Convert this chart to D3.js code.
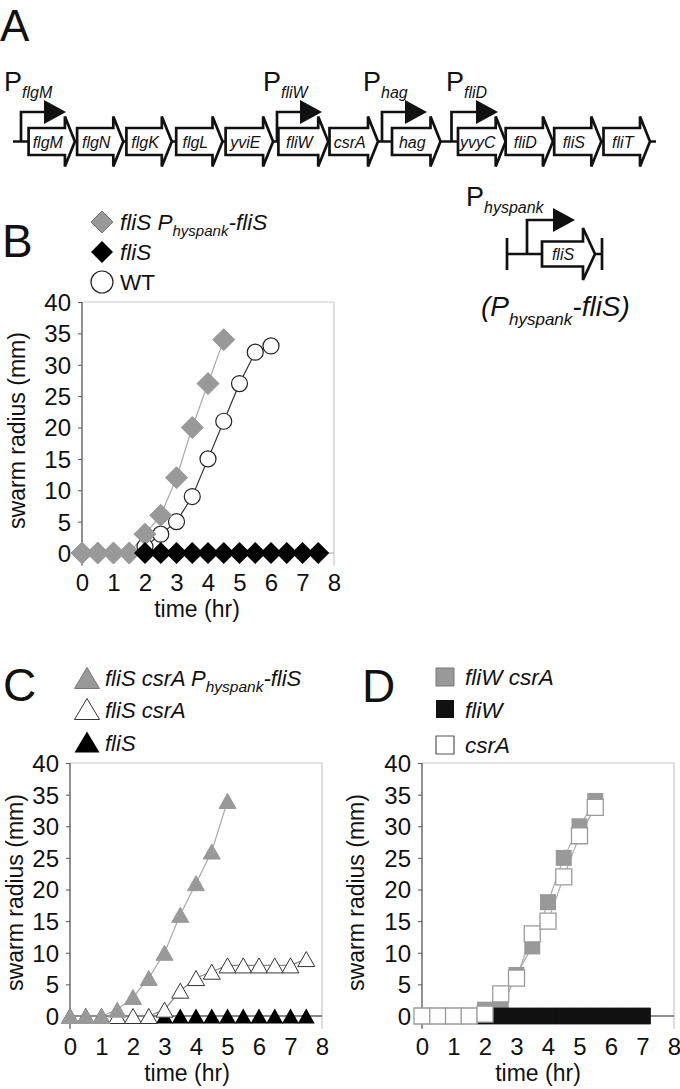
<!DOCTYPE html>
<html><head><meta charset="utf-8">
<script src="https://cdn.jsdelivr.net/npm/d3@7"></script>
<style>body{margin:0;background:#fff}svg{display:block}text{font-family:"Liberation Sans",Arial,Helvetica,sans-serif;fill:#111}</style>
</head><body><svg id="fig" width="680" height="1089"></svg>
<script>
// ---------------- DATA ----------------
const geneNames = ["flgM","flgN","flgK","flgL","yviE","fliW","csrA","hag","yvyC","fliD","fliS","fliT"];
const promoterNames = ["flgM","fliW","hag","fliD"];

const xTicks = [0,1,2,3,4,5,6,7,8];
const yTicks = [0,5,10,15,20,25,30,35,40];

// Panel B
const timeB_comp = [0,0.5,1,1.5,2,2.5,3,3.5,4,4.5];
const radiusB_comp = [0,0,0,0,3,6,12,20,27,34];
const timeB_fliS = [2,2.5,3,3.5,4,4.5,5,5.5,6,6.5,7,7.5];
const radiusB_fliS = [0,0,0,0,0,0,0,0,0,0,0,0];
const timeB_WT = [2,2.5,3,3.5,4,4.5,5,5.5,6];
const radiusB_WT = [1,3,5,9,15,21,27,32,33];

// Panel C
const timeC_comp = [0,0.5,1,1.5,2,2.5,3,3.5,4,4.5,5];
const radiusC_comp = [0,0,0,1,3,6,10,16,21,26,34];
const timeC_csrA = [0,0.5,1,1.5,2,2.5,3,3.5,4,4.5,5,5.5,6,6.5,7,7.5];
const radiusC_csrA = [0,0,0,0,0,0,1,4,6,7,8,8,8,8,8,9];
const timeC_fliS = [3,3.5,4,4.5,5,5.5,6,6.5,7,7.5];
const radiusC_fliS = [0,0,0,0,0,0,0,0,0,0];

// Panel D
const timeD_fliWcsrA = [0,0.5,1,1.5,2,2.5,3,3.5,4,4.5,5,5.5];
const radiusD_fliWcsrA = [0,0,0,0,1,1,6.5,11,18,25,30,34];
const timeD_fliW = [2,2.5,3,3.5,4,4.5,5,5.5,6,6.5,7];
const radiusD_fliW = [0,0,0,0,0,0,0,0,0,0,0];
const timeD_csrA = [0,0.5,1,1.5,2,2.5,3,3.5,4,4.5,5,5.5];
const radiusD_csrA = [0,0,0,0,0.3,3.5,6,13,15,22,28.5,33];

// ---------------- LAYOUT ----------------
const svg = d3.select("#fig");
const TICKFONT = 24;
const TITLEFONT = 23;

function rich(g, x, y, parts, anchor) {
  const t = g.append("text").attr("x", x).attr("y", y);
  if (anchor) t.attr("text-anchor", anchor);
  let prev = 0;
  parts.forEach(p => {
    const s = t.append("tspan").text(p.t).attr("font-size", p.size)
      .attr("font-style", p.it ? "italic" : "normal");
    const dy = (p.dy || 0) - prev;
    if (dy) s.attr("dy", dy);
    prev = p.dy || 0;
  });
  return t;
}

const pathDiamond = r => `M0,${-r}L${r},0L0,${r}L${-r},0Z`;
const pathTri = (w, h) => `M0,${-h/2}L${w/2},${h/2}L${-w/2},${h/2}Z`;
const pathSquare = s => `M${-s/2},${-s/2}h${s}v${s}h${-s}Z`;
const pathCircle = r => `M${r},0A${r},${r} 0 1,1 ${-r},0A${r},${r} 0 1,1 ${r},0Z`;

// ---------------- PANEL A: gene map ----------------
const gA = svg.append("g");
gA.append("text").attr("x", 0).attr("y", 41).attr("font-size", 44).text("A");

const mapY = 141.5;
const geneLeft = [28.6, 77.1, 126.4, 176.2, 225.6, 278.4, 329.5, 392, 458, 505.7, 554.2, 603.5];
const geneTip  = [74.9, 123.3, 171.8, 222.5, 273.1, 328.2, 378, 440.5, 505.7, 552.9, 601.3, 650];
const headLen = 10, bodyH = 13.5, headH = 25;

function geneArrow(g, l, tip, cy, bh, hh, hl) {
  const b = tip - hl;
  g.append("path")
    .attr("d", `M${l},${cy-bh}H${b}V${cy-hh}L${tip},${cy}L${b},${cy+hh}V${cy+bh}H${l}Z`)
    .attr("fill", "#fff").attr("stroke", "#111").attr("stroke-width", 2.7)
    .attr("stroke-linejoin", "miter");
}

gA.append("line").attr("x1", 13).attr("x2", 656).attr("y1", mapY).attr("y2", mapY)
  .attr("stroke", "#111").attr("stroke-width", 2.7);
geneNames.forEach((n, i) => {
  geneArrow(gA, geneLeft[i], geneTip[i], mapY, bodyH, headH, headLen);
  gA.append("text").attr("x", (geneLeft[i] + geneTip[i] - headLen) / 2 + 1).attr("y", mapY + 6)
    .attr("text-anchor", "middle").attr("font-size", 16).attr("font-style", "italic").text(n);
});

const promX = [21, 277, 382, 451.5];
const promTip = [66, 322, 427, 498];
const promLabelX = [4, 263, 363, 446];
function promoter(g, vx, tip, yBase, yTop) {
  g.append("path").attr("d", `M${vx},${yBase}V${yTop}H${tip-20}`)
    .attr("fill", "none").attr("stroke", "#111").attr("stroke-width", 2.7);
  g.append("path").attr("d", `M${tip-22},${yTop-12}L${tip},${yTop}L${tip-22},${yTop+12}Z`).attr("fill", "#111");
}
promoterNames.forEach((n, i) => {
  promoter(gA, promX[i], promTip[i], mapY, 112);
  rich(gA, promLabelX[i], 91, [{t: "P", size: 27}, {t: n, size: 16, it: true, dy: 7}]);
});

// P_hyspank-fliS construct
const gH = svg.append("g");
gH.append("path").attr("d", "M507,238V270M507,254H542M595,254H602M602,238V270")
  .attr("fill", "none").attr("stroke", "#111").attr("stroke-width", 2.7);
geneArrow(gH, 542, 595, 254, 12.5, 26, 12);
gH.append("text").attr("x", 563).attr("y", 260).attr("text-anchor", "middle")
  .attr("font-size", 16).attr("font-style", "italic").text("fliS");
promoter(gH, 527, 575, 254, 220);
rich(gH, 466, 206, [{t: "P", size: 27}, {t: "hyspank", size: 16, it: true, dy: 7}]);
rich(gH, 481, 316, [{t: "(P", size: 28, it: true}, {t: "hyspank", size: 17, it: true, dy: 9}, {t: "-fliS)", size: 28, it: true, dy: 0}]);

// ---------------- chart helper ----------------
function chart(o) {
  const g = svg.append("g");
  const x = d3.scaleLinear().domain([0, 8]).range([o.x0, o.x1]);
  const y = d3.scaleLinear().domain([0, 40]).range([o.yZero, o.yTop]);
  const yMin = -2;
  g.append("path").attr("d", `M${o.x0},${y(40)}H${o.x1}V${y(yMin)}`)
    .attr("fill", "none").attr("stroke", "#c8c8c8").attr("stroke-width", 1.2);
  g.append("line").attr("x1", x(0)).attr("x2", o.x1).attr("y1", y(0)).attr("y2", y(0))
    .attr("stroke", o.zeroColor).attr("stroke-width", 1.2);
  const ya = g.append("g").attr("transform", `translate(${o.x0},0)`)
    .call(d3.axisLeft(y).tickValues(yTicks).tickSize(4).tickSizeOuter(0).tickPadding(7));
  ya.select(".domain").remove();
  ya.selectAll(".tick line").attr("stroke", "#555");
  ya.selectAll(".tick text").attr("font-size", TICKFONT).attr("font-family", null).attr("fill", "#111")
    .attr("dy", "0.35em");
  g.append("line").attr("x1", o.x0).attr("x2", o.x0).attr("y1", y(40)).attr("y2", y(yMin))
    .attr("stroke", "#555").attr("stroke-width", 1.3);
  const xa = g.append("g").attr("transform", `translate(0,${o.xLabelY})`)
    .call(d3.axisBottom(x).tickValues(xTicks).tickSize(0).tickPadding(0));
  xa.select(".domain").remove();
  xa.selectAll(".tick text").attr("font-size", TICKFONT).attr("font-family", null).attr("fill", "#111")
    .attr("y", 0).attr("dy", 0);
  g.append("text").attr("x", o.xTitleX).attr("y", o.xLabelY + 26).attr("text-anchor", "middle")
    .attr("font-size", TITLEFONT).text("time (hr)");
  g.append("text").attr("transform", `translate(${o.yTitleX},${(y(40) + y(0)) / 2 + 3}) rotate(-90)`)
    .attr("text-anchor", "middle").attr("font-size", TITLEFONT).text("swarm radius (mm)");
  return {g, x, y};
}

function series(c, xs, ys, opt) {
  const pts = xs.map((v, i) => [v, ys[i]]);
  if (opt.line) {
    c.g.append("path").datum(pts)
      .attr("d", d3.line().x(d => c.x(d[0])).y(d => c.y(d[1])))
      .attr("fill", "none").attr("stroke", opt.line).attr("stroke-width", opt.lw || 1.2);
  }
  return pts;
}
function markers(c, pts, opt) {
  c.g.append("g").selectAll("path").data(pts).join("path")
    .attr("transform", d => `translate(${c.x(d[0])},${c.y(d[1])})`)
    .attr("d", opt.shape).attr("fill", opt.fill)
    .attr("stroke", opt.stroke || "none").attr("stroke-width", opt.sw || 1);
}

// ---------------- PANEL B ----------------
svg.append("text").attr("x", 2).attr("y", 257).attr("font-size", 46).text("B");
const B = chart({x0: 82, x1: 334, yZero: 553, yTop: 302, zeroColor: "#aaa", xLabelY: 591, xTitleX: 197, yTitleX: 25});
const pBW = series(B, timeB_WT, radiusB_WT, {line: "#333", lw: 1.2});
const pBC = series(B, timeB_comp, radiusB_comp, {line: "#aaa", lw: 1.2});
const pBF = series(B, timeB_fliS, radiusB_fliS, {});
markers(B, pBW, {shape: pathCircle(8), fill: "#fff", stroke: "#222", sw: 1.2});
markers(B, pBC, {shape: pathDiamond(11), fill: "#999", stroke: "#999", sw: 1});
markers(B, pBF, {shape: pathDiamond(11), fill: "#000"});
const lgB = svg.append("g");
lgB.append("path").attr("transform", "translate(102,222)").attr("d", pathDiamond(11)).attr("fill", "#999").attr("stroke", "#777");
lgB.append("path").attr("transform", "translate(102,252)").attr("d", pathDiamond(11)).attr("fill", "#000");
lgB.append("path").attr("transform", "translate(102,282)").attr("d", pathCircle(11)).attr("fill", "#fff").attr("stroke", "#222").attr("stroke-width", 1.2);
rich(lgB, 120, 230, [{t: "fliS P", size: 22.5, it: true}, {t: "hyspank", size: 15, it: true, dy: 6}, {t: "-fliS", size: 22.5, it: true, dy: 0}]);
rich(lgB, 120, 260, [{t: "fliS", size: 22.5, it: true}]);
rich(lgB, 120, 290, [{t: "WT", size: 22.5}]);

// ---------------- PANEL C ----------------
svg.append("text").attr("x", 3).attr("y", 701).attr("font-size", 46).text("C");
const C = chart({x0: 70, x1: 322, yZero: 1016, yTop: 763, zeroColor: "#111", xLabelY: 1055, xTitleX: 187, yTitleX: 23});
const pCC = series(C, timeC_comp, radiusC_comp, {line: "#aaa", lw: 1.2});
const pCW = series(C, timeC_csrA, radiusC_csrA, {line: "#888", lw: 1.2});
const pCF = series(C, timeC_fliS, radiusC_fliS, {});
markers(C, pCF, {shape: pathTri(17, 15), fill: "#000"});
markers(C, pCW, {shape: pathTri(17, 15), fill: "#fff", stroke: "#333", sw: 1});
markers(C, pCC, {shape: pathTri(17, 15), fill: "#999", stroke: "#999", sw: 1});
const lgC = svg.append("g");
lgC.append("path").attr("transform", "translate(87,678)").attr("d", pathTri(25, 21)).attr("fill", "#999").attr("stroke", "#777");
lgC.append("path").attr("transform", "translate(87,709)").attr("d", pathTri(25, 21)).attr("fill", "#fff").attr("stroke", "#333");
lgC.append("path").attr("transform", "translate(87,742)").attr("d", pathTri(25, 21)).attr("fill", "#000");
rich(lgC, 105, 686, [{t: "fliS csrA P", size: 22, it: true}, {t: "hyspank", size: 15.5, it: true, dy: 6}, {t: "-fliS", size: 22, it: true, dy: 0}]);
rich(lgC, 105, 718, [{t: "fliS csrA", size: 22, it: true}]);
rich(lgC, 105, 751, [{t: "fliS", size: 22, it: true}]);

// ---------------- PANEL D ----------------
svg.append("text").attr("x", 362).attr("y", 702).attr("font-size", 46).text("D");
const D = chart({x0: 422, x1: 674, yZero: 1016, yTop: 763, zeroColor: "#222", xLabelY: 1055, xTitleX: 538, yTitleX: 364});
const pDG = series(D, timeD_fliWcsrA, radiusD_fliWcsrA, {line: "#aaa", lw: 1.2});
const pDW = series(D, timeD_csrA, radiusD_csrA, {line: "#aaa", lw: 1.2});
const pDB = series(D, timeD_fliW, radiusD_fliW, {});
markers(D, pDG, {shape: pathSquare(16), fill: "#999"});
markers(D, pDB, {shape: pathSquare(16), fill: "#111", stroke: "#111", sw: 0.8});
markers(D, pDW, {shape: pathSquare(16), fill: "#fff", stroke: "#9a9a9a", sw: 1.3});
const lgD = svg.append("g");
lgD.append("path").attr("transform", "translate(445,677)").attr("d", pathSquare(18)).attr("fill", "#999").attr("stroke", "#777");
lgD.append("path").attr("transform", "translate(445,709)").attr("d", pathSquare(18)).attr("fill", "#111");
lgD.append("path").attr("transform", "translate(445,745)").attr("d", pathSquare(18)).attr("fill", "#fff").attr("stroke", "#555").attr("stroke-width", 1.2);
rich(lgD, 465, 685, [{t: "fliW csrA", size: 22.5, it: true}]);
rich(lgD, 465, 718, [{t: "fliW", size: 22.5, it: true}]);
rich(lgD, 465, 753, [{t: "csrA", size: 22.5, it: true}]);
</script>
</body></html>
